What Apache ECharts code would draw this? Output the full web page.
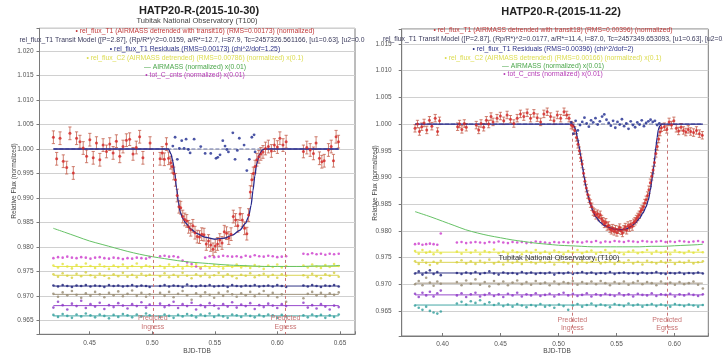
<!DOCTYPE html>
<html>
<head>
<meta charset="utf-8">
<script src="https://cdn.jsdelivr.net/npm/echarts@6/dist/echarts.min.js"></script>
<style>
html,body{margin:0;padding:0;background:#fff;}
#chart{width:723px;height:363px;}
</style>
</head>
<body>
<div id="chart"></div>
<script>
/* ---- left panel : 2015-10-30 ---- */
var timeL = [0.4211,0.4237,0.4264,0.4290,0.4317,0.4343,0.4370,0.4396,0.4423,0.4449,0.4476,0.4502,0.4529,0.4555,0.4582,0.4608,0.4635,0.4661,0.4688,0.4714,0.4741,0.4767,0.4794,0.4820,0.4847,0.4873,0.4900,0.4926,0.4983,
  0.5063,0.5080,0.5097,0.5114,0.5131,0.5148,0.5160,0.5172,0.5186,0.5200,0.5214,0.5228,0.5244,0.5260,0.5276,0.5291,0.5308,0.5325,0.5342,0.5360,0.5378,0.5396,0.5414,0.5432,0.5450,0.5468,0.5486,0.5504,0.5522,0.5540,0.5558,0.5576,0.5594,0.5612,0.5630,0.5648,0.5666,0.5684,0.5702,0.5720,0.5738,0.5756,0.5770,0.5784,0.5796,0.5808,0.5822,0.5836,0.5852,0.5868,0.5885,0.5905,0.5928,0.5952,0.5976,0.6000,0.6020,0.6045,0.6070,
  0.6208,0.6235,0.6262,0.6288,0.6309,0.6336,0.6355,0.6374,0.6408,0.6430,0.6448,0.6469,0.6488];
var fluxL = [1.0024,0.9980,1.0022,0.9975,0.9962,1.0032,0.9951,1.0022,1.0015,1.0002,0.9985,1.0019,0.9982,1.0012,0.9978,1.0008,0.9995,1.0010,0.9992,1.0016,0.9985,1.0005,1.0018,1.0020,0.9990,1.0003,1.0025,0.9982,1.0012,
  0.9980,0.9992,0.9979,1.0010,0.9981,0.9972,0.9964,0.9950,0.9937,0.9905,0.9882,0.9880,0.9862,0.9856,0.9853,0.9841,0.9835,0.9843,0.9829,0.9821,0.9820,0.9826,0.9825,0.9806,0.9812,0.9804,0.9795,0.9802,0.9806,0.9814,0.9808,0.9831,0.9828,0.9818,0.9826,0.9862,0.9855,0.9843,0.9867,0.9855,0.9838,0.9827,0.9865,0.9912,0.9937,0.9950,0.9964,0.9978,0.9984,0.9990,0.9994,1.0001,1.0005,0.9996,1.0008,1.0004,1.0022,1.0008,1.0015,
  0.9995,1.0003,0.9998,0.9991,1.0012,0.9981,0.9974,0.9976,0.9998,1.0005,0.9976,1.0025,1.0015];
var errL = 0.0013;
var residTimeL = [0.5165,0.5183,0.5201,0.5217,0.5236,0.5255,0.5271,0.5289,0.5303,0.5335,0.5388,0.5423,0.5468,0.5510,0.5524,0.5542,0.5564,0.5582,0.5596,0.5609,0.5644,0.5662,0.5680,0.5696,0.5734,0.5756,0.5776,0.5796,0.5814,0.5822];
var residL = [1.0006,1.0024,0.9979,1.0001,1.0017,1.0001,1.0020,0.9999,0.9992,1.0020,1.0005,0.9991,0.9991,0.9981,0.9983,0.9988,1.0017,1.0006,0.9999,0.9994,1.0033,0.9979,0.9997,1.0022,1.0008,0.9956,0.9979,1.0024,1.0029,0.9994];
var modelTimeL = [0.4211,0.5130,0.5150,0.5165,0.5180,0.5195,0.5210,0.5225,0.5245,0.5270,0.5310,0.5360,0.5420,0.5500,0.5580,0.5640,0.5700,0.5745,0.5770,0.5790,0.5805,0.5820,0.5835,0.5855,0.5880,0.5900,0.6490];
var modelL = [1.0000,1.0000,0.9990,0.9975,0.9950,0.9920,0.9890,0.9870,0.9858,0.9848,0.9836,0.9827,0.9820,0.9816,0.9818,0.9824,0.9834,0.9848,0.9862,0.9885,0.9915,0.9945,0.9970,0.9988,0.9998,1.0000,1.0000];
var airTimeL = [0.421,0.43,0.44,0.45,0.46,0.47,0.48,0.49,0.50,0.51,0.52,0.53,0.54,0.55,0.56,0.57,0.58,0.59,0.60,0.61,0.62,0.63,0.64,0.65];
var airL = [0.9838,0.9830,0.9821,0.9812,0.9805,0.9798,0.9791,0.9785,0.9780,0.9776,0.9772,0.9769,0.9767,0.9765,0.9763,0.9762,0.9761,0.9760,0.9760,0.9760,0.9760,0.9761,0.9761,0.9762];
var bandTimeL = [0.4211,0.4248,0.4285,0.4322,0.4359,0.4396,0.4433,0.4470,0.4507,0.4544,0.4581,0.4618,0.4655,0.4692,0.4729,0.4766,0.4803,0.4840,0.4877,0.4914,0.4951,0.4980,
  0.5063,0.5099,0.5135,0.5171,0.5207,0.5243,0.5279,0.5315,0.5351,0.5387,0.5423,0.5459,0.5495,0.5531,0.5567,0.5603,0.5639,0.5675,0.5711,0.5747,0.5783,0.5819,0.5855,0.5891,0.5927,0.5963,0.5999,0.6035,0.6070,
  0.6208,0.6243,0.6278,0.6313,0.6348,0.6383,0.6418,0.6453,0.6490];
var magL = [0.9777,0.9779,0.9778,0.9780,0.9778,0.9777,0.9779,0.9778,0.9776,0.9778,0.9779,0.9777,0.9776,0.9778,0.9777,0.9775,0.9777,0.9776,0.9778,0.9777,0.9776,0.9779,
  0.9781,0.9782,0.9780,0.9781,0.9779,0.9772,0.9768,0.9765,0.9760,0.9756,0.9778,0.9781,0.9779,0.9780,0.9782,0.9781,0.9780,0.9781,0.9779,0.9782,0.9780,0.9783,0.9781,0.9780,0.9782,0.9781,0.9779,0.9780,0.9781,
  0.9786,0.9785,0.9787,0.9785,0.9786,0.9784,0.9786,0.9785,0.9786];
var yelAL = [0.9762,0.9758,0.9765,0.9760,0.9756,0.9763,0.9759,0.9766,0.9761,0.9757,0.9764,0.9760,0.9755,0.9762,0.9759,0.9764,0.9757,0.9761,0.9766,0.9758,0.9762,0.9760,
  0.9761,0.9757,0.9764,0.9759,0.9763,0.9756,0.9762,0.9760,0.9765,0.9758,0.9761,0.9757,0.9763,0.9760,0.9756,0.9762,0.9759,0.9764,0.9758,0.9761,0.9757,0.9763,0.9760,0.9755,0.9762,0.9759,0.9764,0.9758,0.9761,
  0.9762,0.9758,0.9764,0.9760,0.9757,0.9763,0.9759,0.9765,0.9761];
var yelBL = [0.9744,0.9739,0.9746,0.9741,0.9737,0.9745,0.9740,0.9748,0.9742,0.9738,0.9745,0.9741,0.9736,0.9744,0.9740,0.9747,0.9739,0.9743,0.9738,0.9745,0.9741,0.9743,
  0.9740,0.9746,0.9738,0.9743,0.9739,0.9747,0.9741,0.9736,0.9744,0.9740,0.9745,0.9738,0.9742,0.9747,0.9739,0.9744,0.9740,0.9736,0.9743,0.9741,0.9746,0.9738,0.9742,0.9745,0.9739,0.9743,0.9737,0.9744,0.9741,
  0.9742,0.9738,0.9745,0.9740,0.9736,0.9744,0.9741,0.9747,0.9739];
var navL = [0.9721,0.9719,0.9722,0.9720,0.9718,0.9721,0.9720,0.9722,0.9719,0.9721,0.9720,0.9718,0.9722,0.9720,0.9721,0.9719,0.9720,0.9722,0.9719,0.9721,0.9720,0.9718,
  0.9720,0.9722,0.9719,0.9721,0.9720,0.9718,0.9723,0.9720,0.9719,0.9721,0.9720,0.9722,0.9719,0.9720,0.9721,0.9718,0.9722,0.9720,0.9719,0.9721,0.9720,0.9722,0.9719,0.9720,0.9721,0.9719,0.9722,0.9720,0.9718,
  0.9721,0.9719,0.9722,0.9720,0.9718,0.9721,0.9720,0.9722,0.9719];
var brnL = [0.9704,0.9698,0.9707,0.9701,0.9710,0.9702,0.9696,0.9705,0.9700,0.9708,0.9703,0.9697,0.9706,0.9701,0.9709,0.9699,0.9704,0.9711,0.9700,0.9706,0.9698,0.9703,
  0.9706,0.9700,0.9708,0.9697,0.9704,0.9710,0.9701,0.9692,0.9705,0.9699,0.9707,0.9702,0.9696,0.9706,0.9700,0.9709,0.9703,0.9698,0.9705,0.9701,0.9708,0.9699,0.9704,0.9710,0.9700,0.9706,0.9697,0.9703,0.9688,
  0.9695,0.9704,0.9708,0.9701,0.9706,0.9699,0.9705,0.9702,0.9707];
var purL = [0.9676,0.9688,0.9681,0.9672,0.9684,0.9679,0.9690,0.9675,0.9683,0.9678,0.9686,0.9673,0.9681,0.9677,0.9685,0.9680,0.9674,0.9683,0.9679,0.9687,0.9676,0.9682,
  0.9684,0.9677,0.9681,0.9688,0.9675,0.9683,0.9679,0.9686,0.9672,0.9681,0.9677,0.9685,0.9680,0.9674,0.9683,0.9678,0.9687,0.9676,0.9682,0.9679,0.9685,0.9673,0.9681,0.9677,0.9684,0.9680,0.9675,0.9683,0.9679,
  0.9686,0.9676,0.9681,0.9674,0.9683,0.9678,0.9672,0.9680,0.9677];
var tealL = [0.9661,0.9657,0.9663,0.9659,0.9655,0.9662,0.9658,0.9664,0.9660,0.9656,0.9662,0.9659,0.9654,0.9661,0.9657,0.9663,0.9660,0.9656,0.9662,0.9658,0.9664,0.9660,
  0.9657,0.9662,0.9659,0.9655,0.9661,0.9658,0.9663,0.9660,0.9656,0.9662,0.9659,0.9664,0.9657,0.9661,0.9658,0.9655,0.9662,0.9660,0.9657,0.9663,0.9659,0.9656,0.9661,0.9658,0.9662,0.9660,0.9655,0.9661,0.9658,
  0.9660,0.9656,0.9662,0.9658,0.9661,0.9655,0.9660,0.9657,0.9662];
var levelsL = [0.9760,0.9742,0.9720,0.9703,0.9680,0.9659];
var predL = [0.5005,0.6065];
var legendL = [
  '\u2022 rel_flux_T1 (AIRMASS detrended with transit16) (RMS=0.00173) (normalized)',
  'rel_flux_T1 Transit Model ([P=2.87], (Rp/R*)^2=0.0159, a/R*=12.7, i=87.9, Tc=2457326.561166, [u1=0.63], [u2=0.0',
  '\u2022 rel_flux_T1 Residuals (RMS=0.00173) (chi^2/dof=1.25)',
  '\u2022 rel_flux_C2 (AIRMASS detrended) (RMS=0.00786) (normalized) x(0.1)',
  '\u2014 AIRMASS (normalized) x(0.01)',
  '\u2022 tot_C_cnts (normalized) x(0.01)'];

/* ---- right panel : 2015-11-22 ---- */
var timeR = [0.3763,0.3784,0.3801,0.3821,0.3841,0.3864,0.3887,0.3908,0.3937,0.3957,0.3974,
  0.4130,0.4147,0.4167,0.4188,0.4205,
  0.4291,0.4312,0.4332,0.4355,0.4378,0.4398,0.4418,0.4436,
  0.4470,0.4499,0.4528,0.4557,0.4586,0.4615,0.4644,0.4672,0.4701,0.4730,0.4759,0.4788,0.4817,0.4846,0.4874,0.4903,0.4932,0.4961,0.4990,0.5019,0.5048,0.5071,0.5091,
  0.5110,0.5125,0.5140,0.5155,0.5168,0.5180,0.5192,0.5204,0.5216,0.5228,0.5240,0.5252,0.5264,0.5276,0.5288,0.5300,0.5312,0.5324,0.5336,0.5348,0.5360,0.5372,0.5384,0.5396,0.5408,0.5420,0.5432,0.5444,0.5456,0.5468,0.5480,0.5492,0.5504,0.5516,0.5528,0.5540,0.5552,0.5564,0.5576,0.5588,0.5600,0.5612,0.5624,0.5636,0.5648,0.5660,0.5672,0.5684,0.5696,0.5708,0.5720,0.5732,0.5744,0.5756,0.5768,0.5780,0.5792,0.5804,0.5816,0.5828,0.5840,0.5852,0.5864,0.5876,0.5888,
  0.5913,0.5934,0.5954,0.5975,0.5995,0.6016,0.6036,0.6057,0.6078,0.6098,0.6119,0.6140,0.6165,0.6190,0.6215,0.6240];
var fluxR = [0.9992,1.0000,0.9986,0.9995,1.0002,0.9989,1.0007,0.9996,1.0011,0.9986,1.0006,
  0.9995,1.0000,0.9990,1.0001,0.9994,
  0.9998,0.9989,1.0001,0.9994,1.0007,1.0000,1.0014,1.0004,
  1.0011,1.0015,1.0006,1.0017,1.0009,1.0001,1.0011,1.0019,1.0014,1.0021,1.0011,1.0020,1.0012,1.0004,1.0019,1.0023,1.0014,1.0006,1.0017,1.0011,1.0023,1.0017,1.0011,
  0.9998,0.9996,0.9988,0.9975,0.9962,0.9950,0.9937,0.9925,0.9908,0.9893,0.9880,0.9868,0.9860,0.9851,0.9845,0.9836,0.9834,0.9829,0.9832,0.9826,0.9830,0.9822,0.9818,0.9813,0.9816,0.9808,0.9810,0.9804,0.9801,0.9805,0.9799,0.9803,0.9797,0.9802,0.9806,0.9800,0.9796,0.9803,0.9807,0.9801,0.9810,0.9806,0.9812,0.9808,0.9815,0.9818,0.9822,0.9826,0.9830,0.9836,0.9840,0.9845,0.9852,0.9858,0.9866,0.9877,0.9890,0.9902,0.9914,0.9928,0.9945,0.9958,0.9972,0.9985,0.9993,
  0.9995,0.9990,1.0004,0.9998,1.0006,0.9992,0.9987,0.9994,0.9988,0.9985,0.9990,0.9986,0.9984,0.9988,0.9982,0.9979];
var errR = 0.0007;
var residTimeR = [0.5110,0.5129,0.5148,0.5167,0.5186,0.5205,0.5224,0.5243,0.5262,0.5281,0.5300,0.5319,0.5338,0.5357,0.5376,0.5395,0.5414,0.5433,0.5452,0.5471,0.5490,0.5509,0.5528,0.5547,0.5566,0.5585,0.5604,0.5623,0.5642,0.5661,0.5680,0.5699,0.5718,0.5737,0.5756,0.5775,0.5794,0.5813,0.5832,0.5851,0.5870];
var residR = [1.0003,0.9982,1.0006,0.9988,0.9998,1.0004,1.0012,1.0001,0.9995,1.0007,1.0003,1.0011,0.9999,1.0005,1.0014,1.0018,1.0008,1.0002,0.9997,1.0006,0.9993,1.0004,0.9999,1.0009,0.9996,1.0001,0.9991,1.0005,0.9998,0.9994,1.0003,0.9999,1.0007,0.9996,1.0002,1.0005,1.0008,1.0004,1.0006,0.9998,1.0001];
var modelTimeR = [0.3763,0.5120,0.5135,0.5149,0.5163,0.5178,0.5192,0.5207,0.5222,0.5236,0.5255,0.5274,0.5298,0.5322,0.5360,0.5394,0.5440,0.5481,0.5530,0.5580,0.5625,0.5665,0.5697,0.5730,0.5755,0.5775,0.5792,0.5808,0.5822,0.5832,0.5841,0.5851,0.5861,0.5873,0.5888,0.6245];
var modelR = [1.0000,1.0000,0.9996,0.9989,0.9975,0.9958,0.9940,0.9920,0.9900,0.9883,0.9866,0.9851,0.9837,0.9826,0.9816,0.9810,0.9806,0.9803,0.9802,0.9803,0.9808,0.9815,0.9823,0.9834,0.9845,0.9858,0.9876,0.9898,0.9920,0.9940,0.9958,0.9975,0.9989,0.9996,1.0000,1.0000];
var airTimeR = [0.3763,0.39,0.40,0.41,0.42,0.43,0.44,0.45,0.46,0.47,0.48,0.49,0.50,0.51,0.52,0.53,0.54,0.55,0.56,0.57,0.58,0.59,0.60,0.61,0.62,0.6245];
var airR = [0.9836,0.9826,0.9818,0.9810,0.9802,0.9796,0.9791,0.9787,0.9783,0.9780,0.9777,0.9775,0.9773,0.9772,0.9771,0.9770,0.9770,0.9770,0.9770,0.9770,0.9771,0.9771,0.9772,0.9773,0.9774,0.9775];
var bandTimeR = [0.3763,0.3795,0.3827,0.3859,0.3891,0.3923,0.3955,0.3985,
  0.4124,0.4164,0.4204,0.4244,0.4284,0.4324,0.4364,0.4404,0.4444,0.4484,0.4524,0.4564,0.4604,0.4644,0.4684,0.4724,0.4764,0.4804,0.4844,0.4884,0.4924,0.4964,0.5004,0.5044,0.5084,0.5124,0.5164,0.5204,0.5244,0.5284,0.5324,0.5364,0.5404,0.5444,0.5484,0.5524,0.5564,0.5604,0.5644,0.5684,0.5724,0.5764,0.5804,0.5844,0.5884,0.5924,0.5964,0.6004,0.6044,0.6084,0.6124,0.6164,0.6204,0.6245];
var magR = [0.9775,0.9776,0.9774,0.9775,0.9776,0.9775,0.9774,0.9795,
  0.9778,0.9779,0.9777,0.9778,0.9779,0.9778,0.9777,0.9779,0.9778,0.9780,0.9778,0.9777,0.9779,0.9778,0.9779,0.9777,0.9778,0.9780,0.9779,0.9778,0.9777,0.9779,0.9778,0.9779,0.9778,0.9780,0.9779,0.9778,0.9780,0.9779,0.9781,0.9778,0.9780,0.9779,0.9781,0.9780,0.9779,0.9781,0.9780,0.9779,0.9781,0.9780,0.9779,0.9780,0.9781,0.9779,0.9780,0.9779,0.9781,0.9780,0.9779,0.9780,0.9781,0.9779];
var yelAR = [0.9762,0.9757,0.9764,0.9759,0.9761,0.9756,0.9763,0.9758,
  0.9761,0.9757,0.9764,0.9759,0.9763,0.9756,0.9762,0.9760,0.9765,0.9758,0.9761,0.9757,0.9763,0.9760,0.9756,0.9762,0.9759,0.9764,0.9758,0.9761,0.9757,0.9763,0.9760,0.9756,0.9762,0.9759,0.9764,0.9758,0.9761,0.9763,0.9757,0.9760,0.9764,0.9758,0.9762,0.9759,0.9756,0.9761,0.9763,0.9758,0.9760,0.9764,0.9757,0.9762,0.9759,0.9761,0.9756,0.9763,0.9760,0.9758,0.9762,0.9759,0.9764,0.9760];
var yelBR = [0.9743,0.9738,0.9745,0.9740,0.9736,0.9742,0.9739,0.9744,
  0.9741,0.9745,0.9739,0.9743,0.9738,0.9744,0.9740,0.9746,0.9739,0.9742,0.9737,0.9744,0.9740,0.9743,0.9738,0.9745,0.9741,0.9739,0.9744,0.9740,0.9742,0.9737,0.9745,0.9741,0.9739,0.9743,0.9738,0.9744,0.9740,0.9742,0.9746,0.9739,0.9741,0.9744,0.9738,0.9743,0.9740,0.9745,0.9739,0.9742,0.9737,0.9744,0.9741,0.9739,0.9743,0.9740,0.9745,0.9738,0.9742,0.9740,0.9744,0.9739,0.9741,0.9743];
var navR = [0.9720,0.9724,0.9718,0.9722,0.9726,0.9719,0.9723,0.9717,
  0.9721,0.9719,0.9722,0.9720,0.9723,0.9719,0.9721,0.9724,0.9720,0.9718,0.9722,0.9720,0.9721,0.9719,0.9723,0.9720,0.9722,0.9719,0.9721,0.9720,0.9722,0.9718,0.9721,0.9720,0.9722,0.9719,0.9721,0.9723,0.9720,0.9722,0.9719,0.9721,0.9720,0.9723,0.9719,0.9721,0.9722,0.9720,0.9721,0.9719,0.9722,0.9720,0.9721,0.9723,0.9720,0.9719,0.9721,0.9720,0.9722,0.9719,0.9721,0.9720,0.9722,0.9720];
var brnR = [0.9700,0.9706,0.9698,0.9712,0.9703,0.9697,0.9705,0.9701,
  0.9704,0.9698,0.9707,0.9701,0.9709,0.9699,0.9704,0.9696,0.9706,0.9700,0.9705,0.9698,0.9703,0.9707,0.9700,0.9704,0.9699,0.9706,0.9701,0.9703,0.9698,0.9705,0.9700,0.9704,0.9702,0.9706,0.9699,0.9704,0.9701,0.9705,0.9700,0.9706,0.9702,0.9698,0.9704,0.9701,0.9705,0.9699,0.9703,0.9706,0.9700,0.9704,0.9702,0.9698,0.9705,0.9701,0.9703,0.9699,0.9704,0.9700,0.9702,0.9705,0.9699,0.9692];
var purR = [0.9682,0.9676,0.9684,0.9679,0.9686,0.9677,0.9683,0.9688,
  0.9679,0.9683,0.9676,0.9681,0.9684,0.9677,0.9680,0.9683,0.9678,0.9681,0.9676,0.9682,0.9679,0.9684,0.9677,0.9681,0.9679,0.9683,0.9678,0.9680,0.9682,0.9677,0.9681,0.9684,0.9679,0.9682,0.9678,0.9680,0.9683,0.9677,0.9681,0.9679,0.9682,0.9680,0.9678,0.9683,0.9679,0.9681,0.9677,0.9682,0.9680,0.9679,0.9683,0.9678,0.9681,0.9680,0.9682,0.9677,0.9681,0.9679,0.9682,0.9680,0.9678,0.9681];
var tealR = [0.9660,0.9656,0.9652,0.9658,0.9650,0.9647,0.9645,0.9649,
  0.9664,0.9667,0.9662,0.9668,0.9665,0.9670,0.9663,0.9666,0.9661,0.9664,0.9659,0.9662,0.9658,0.9663,0.9660,0.9657,0.9661,0.9659,0.9663,0.9658,0.9660,0.9656,0.9662,0.9659,0.9652,0.9660,0.9663,0.9658,0.9661,0.9664,0.9659,0.9662,0.9660,0.9657,0.9663,0.9661,0.9659,0.9664,0.9660,0.9662,0.9658,0.9661,0.9663,0.9659,0.9662,0.9660,0.9658,0.9663,0.9661,0.9659,0.9662,0.9660,0.9658,0.9661];
var levelsR = [0.9760,0.9741,0.9721,0.9702,0.9680,0.9661];
var predR = [0.5120,0.5937];
var legendR = [
  '\u2022 rel_flux_T1 (AIRMASS detrended with transit18) (RMS=0.00396) (normalized)',
  'rel_flux_T1 Transit Model ([P=2.87], (Rp/R*)^2=0.0177, a/R*=11.4, i=87.0, Tc=2457349.653093, [u1=0.63], [u2=0.0',
  '\u2022 rel_flux_T1 Residuals (RMS=0.00396) (chi^2/dof=2)',
  '\u2022 rel_flux_C2 (AIRMASS detrended) (RMS=0.00166) (normalized) x(0.1)',
  '\u2014 AIRMASS (normalized) x(0.01)',
  '\u2022 tot_C_cnts (normalized) x(0.01)'];

var FONT = '"Liberation Sans", Arial, sans-serif';
var col = {red:'#d42626', err:'#c4604c', model:'#26288c', resid:'#1e2b8e', mag:'#cc38cc', yelA:'#e2e23c', yelB:'#d6cf3e',
  nav:'#1b1f78', brn:'#958870', pur:'#8b36c6', teal:'#2f9d9b', air:'#66c266', pred:'#c87474'};
var legendCol = ['#c23a3a','#3a3a5c','#2a2f86','#dcdc50','#4aa64a','#b63cb6'];

var panels = [
  {grid:{left:39.5, top:28.3, width:315.5, height:306}, x:[0.41,0.662], y:[0.96214,1.02466], ylm:6,
   time:timeL, flux:fluxL, err:errL, rt:residTimeL, r:residL, mt:modelTimeL, m:modelL, at:airTimeL, a:airL,
   bt:bandTimeL, bands:[magL,yelAL,yelBL,navL,brnL,purL,tealL], lv:levelsL, pred:predL, predTop:0.9994},
  {grid:{left:401.7, top:29, width:306.6, height:307}, x:[0.3648,0.6292], y:[0.9603,1.0178], ylm:10,
   time:timeR, flux:fluxR, err:errR, rt:residTimeR, r:residR, mt:modelTimeR, m:modelR, at:airTimeR, a:airR,
   bt:bandTimeR, bands:[magR,yelAR,yelBR,navR,brnR,purR,tealR], lv:levelsR, pred:predR, predTop:0.9995}
];

function zip(ts, vs) {
  var out = [];
  for (var i = 0; i < ts.length; i++) out.push([ts[i], vs[i]]);
  return out;
}
function stepFmt(step, dec) {
  return function (v) {
    var k = v / step;
    return Math.abs(k - Math.round(k)) < 1e-4 ? v.toFixed(dec) : '';
  };
}

var grids = [], xAxes = [], yAxes = [], series = [];
var bandCols = [col.mag, col.yelA, col.yelB, col.nav, col.brn, col.pur, col.teal];

panels.forEach(function (p, gi) {
  grids.push({left:p.grid.left, top:p.grid.top, width:p.grid.width, height:p.grid.height,
    show:true, borderColor:'#7a7a7a', borderWidth:1, backgroundColor:'#fff'});
  xAxes.push({gridIndex:gi, type:'value', min:p.x[0], max:p.x[1], minInterval:0.05, maxInterval:0.05,
    axisLine:{lineStyle:{color:'#7a7a7a'}}, axisTick:{inside:true, length:3, lineStyle:{color:'#7a7a7a'}},
    axisLabel:{formatter:stepFmt(0.05, 2), fontSize:6.5, fontFamily:FONT, color:'#555', margin:5},
    splitLine:{show:false}});
  yAxes.push({gridIndex:gi, type:'value', min:p.y[0], max:p.y[1], minInterval:0.005, maxInterval:0.005,
    axisLine:{lineStyle:{color:'#7a7a7a'}}, axisTick:{length:3, lineStyle:{color:'#7a7a7a'}},
    axisLabel:{formatter:stepFmt(0.005, 3), fontSize:6.5, fontFamily:FONT, color:'#555', margin:p.ylm},
    splitLine:{lineStyle:{color:'#d0d0d0', width:1}}});

  var first = p.bt[0], last = p.bt[p.bt.length - 1];
  // comparison star bands
  p.bands.forEach(function (vals, bi) {
    series.push({type:'scatter', xAxisIndex:gi, yAxisIndex:gi, data:zip(p.bt, vals), symbolSize:2.6,
      itemStyle:{color:bandCols[bi]}, z:1, silent:true});
    if (bi > 0) {
      series.push({type:'line', xAxisIndex:gi, yAxisIndex:gi, data:[[first, p.lv[bi - 1]], [last, p.lv[bi - 1]]],
        showSymbol:false, lineStyle:{color:bandCols[bi], width:0.9}, z:1, silent:true});
    }
  });
  // airmass
  series.push({type:'line', xAxisIndex:gi, yAxisIndex:gi, data:zip(p.at, p.a), showSymbol:false, smooth:0.3,
    lineStyle:{color:col.air, width:1}, z:2, silent:true});
  // residual baseline + predicted ingress/egress
  series.push({type:'line', xAxisIndex:gi, yAxisIndex:gi, data:[[p.time[0], 1.0], [p.time[p.time.length - 1], 1.0]],
    showSymbol:false, lineStyle:{color:'#6a74a8', width:1, type:'dashed'}, z:2, silent:true,
    markLine:{silent:true, symbol:['none','none'], label:{show:false},
      lineStyle:{color:col.pred, width:1, type:[3,3]},
      data:p.pred.map(function (t) { return [{coord:[t, p.predTop]}, {coord:[t, p.y[0]]}]; })}});
  // transit model
  series.push({type:'line', xAxisIndex:gi, yAxisIndex:gi, data:zip(p.mt, p.m), showSymbol:false, smooth:0.25,
    smoothMonotone:'x', lineStyle:{color:col.model, width:1.3}, z:4, silent:true});
  // error bars
  var e = p.err;
  series.push({type:'custom', xAxisIndex:gi, yAxisIndex:gi, data:zip(p.time, p.flux), z:3, silent:true, clip:true,
    renderItem:function (params, api) {
      var x = api.value(0), y = api.value(1);
      var a = api.coord([x, y + e]), b = api.coord([x, y - e]);
      var w = 1.6, st = {stroke:col.err, lineWidth:0.8};
      return {type:'group', children:[
        {type:'line', shape:{x1:a[0], y1:a[1], x2:b[0], y2:b[1]}, style:st},
        {type:'line', shape:{x1:a[0] - w, y1:a[1], x2:a[0] + w, y2:a[1]}, style:st},
        {type:'line', shape:{x1:b[0] - w, y1:b[1], x2:b[0] + w, y2:b[1]}, style:st}
      ]};
    }});
  // detrended target flux
  series.push({type:'scatter', xAxisIndex:gi, yAxisIndex:gi, data:zip(p.time, p.flux), symbolSize:3,
    itemStyle:{color:col.red}, z:5, silent:true});
  // residuals
  series.push({type:'scatter', xAxisIndex:gi, yAxisIndex:gi, data:zip(p.rt, p.r), symbolSize:2.8,
    itemStyle:{color:col.resid}, z:6, silent:true});
});

var chart = echarts.init(document.getElementById('chart'));
chart.setOption({
  animation:false,
  backgroundColor:'#fff',
  grid:grids, xAxis:xAxes, yAxis:yAxes, series:series
});

function txt(x, y, s, size, color, align, weight, rot) {
  return {type:'text', x:x, y:y, rotation:rot || 0, silent:true, z:50,
    style:{text:s, font:(weight || 'normal') + ' ' + size + 'px ' + FONT, fill:color,
      textAlign:align || 'center', textVerticalAlign:'middle'}};
}

var g = [];
g.push(txt(199, 11, 'HATP20-R-(2015-10-30)', 11, '#222', 'center', 'bold'));
g.push(txt(197, 21, 'Tubitak National Observatory (T100)', 7.5, '#444'));
g.push(txt(561, 12, 'HATP20-R-(2015-11-22)', 11, '#222', 'center', 'bold'));
g.push(txt(559, 258, 'Tubitak National Observatory (T100)', 7.5, '#333'));

var legY = [31, 40.5, 49.5, 58.3, 66.7, 75];
legendL.forEach(function (s, i) {
  if (i === 1) g.push(txt(19.5, legY[i], s, 6.8, legendCol[i], 'left'));
  else g.push(txt(195, legY[i], s, 6.8, legendCol[i]));
});
legendR.forEach(function (s, i) {
  if (i === 1) g.push(txt(383, legY[i] - 1, s, 6.8, legendCol[i], 'left'));
  else g.push(txt(553, legY[i] - 0.5, s, 6.8, legendCol[i]));
});

g.push(txt(14, 181, 'Relative Flux (normalized)', 6.5, '#444', 'center', 'normal', Math.PI / 2));
g.push(txt(375, 183, 'Relative Flux (normalized)', 6.5, '#444', 'center', 'normal', Math.PI / 2));
g.push(txt(197, 351, 'BJD-TDB', 6.5, '#444'));
g.push(txt(557, 351, 'BJD-TDB', 6.5, '#444'));

panels.forEach(function (p, gi) {
  var names = ['Ingress', 'Egress'];
  p.pred.forEach(function (t, k) {
    var pt = chart.convertToPixel({gridIndex:gi}, [t, p.y[0]]);
    g.push(txt(pt[0], pt[1] - 16, 'Predicted', 7, col.pred));
    g.push(txt(pt[0], pt[1] - 7.5, names[k], 7, col.pred));
  });
});

chart.setOption({graphic:g});
</script>
</body>
</html>
